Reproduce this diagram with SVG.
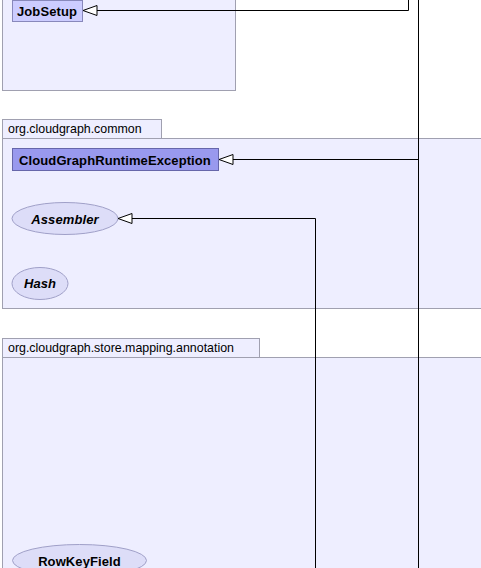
<svg xmlns="http://www.w3.org/2000/svg" width="481" height="568" viewBox="0 0 481 568">
<defs>
<marker id="tri" markerWidth="16" markerHeight="12" refX="15" refY="6" orient="auto" markerUnits="userSpaceOnUse">
<path d="M1,1 L15,6 L1,11 Z" fill="#ffffff" stroke="#000000" stroke-width="1"/>
</marker>
<style>
.pkg{fill:#eeeeff;stroke:#a0a0b0;stroke-width:1}
.tab{fill:#eeeeff;stroke:#a0a0b0;stroke-width:1}
.pkgt{font-family:"Liberation Sans",Arial,sans-serif;font-size:12.4px;fill:#000}
.cls{fill:#ccccff;stroke:#8888bb;stroke-width:1}
.cls2{fill:#9999ee;stroke:#6666aa;stroke-width:1}
.ell{fill:#ddddf8;stroke:#a0a0c8;stroke-width:1}
.lbl{font-family:"Liberation Sans",Arial,sans-serif;font-size:13px;font-weight:bold;fill:#000;letter-spacing:0.1px}
.it{font-style:italic}
.con{fill:none;stroke:#000;stroke-width:1}
</style>
</defs>
<g id="pkg-top">
<rect class="pkg" x="2.5" y="-10" width="233" height="100.5"/>
</g>
<g id="pkg-common">
<rect class="tab" x="2.5" y="119.5" width="159" height="19"/>
<rect class="pkg" x="2.5" y="138.5" width="490" height="170"/>
<text class="pkgt" x="8" y="133">org.cloudgraph.common</text>
</g>
<g id="pkg-annotation">
<rect class="tab" x="2.5" y="338.5" width="257" height="19"/>
<rect class="pkg" x="2.5" y="357.5" width="490" height="230"/>
<text class="pkgt" x="8" y="352">org.cloudgraph.store.mapping.annotation</text>
</g>
<g id="JobSetup">
<rect class="cls" x="12.5" y="0.5" width="70" height="21"/>
<text class="lbl" x="47" y="15.5" text-anchor="middle">JobSetup</text>
</g>
<g id="CloudGraphRuntimeException">
<rect class="cls2" x="12.5" y="148.5" width="206" height="22"/>
<text class="lbl" x="115" y="164.5" text-anchor="middle">CloudGraphRuntimeException</text>
</g>
<g id="Assembler">
<ellipse class="ell" cx="65" cy="218.5" rx="53" ry="16"/>
<text class="lbl it" x="65" y="223.5" text-anchor="middle">Assembler</text>
</g>
<g id="Hash">
<ellipse class="ell" cx="40" cy="283.5" rx="28" ry="16"/>
<text class="lbl it" x="40" y="288" text-anchor="middle">Hash</text>
</g>
<g id="RowKeyField">
<ellipse class="ell" cx="79.5" cy="560.5" rx="67" ry="16"/>
<text class="lbl" x="79.5" y="565.5" text-anchor="middle">RowKeyField</text>
</g>
<g id="connectors">
<path class="con" d="M408.5,0 L408.5,10.5 L83,10.5" marker-end="url(#tri)"/>
<path class="con" d="M418.5,0 L418.5,568"/>
<path class="con" d="M418.5,159.5 L219,159.5" marker-end="url(#tri)"/>
<path class="con" d="M315.5,568 L315.5,218.5 L118,218.5" marker-end="url(#tri)"/>
</g>
</svg>
